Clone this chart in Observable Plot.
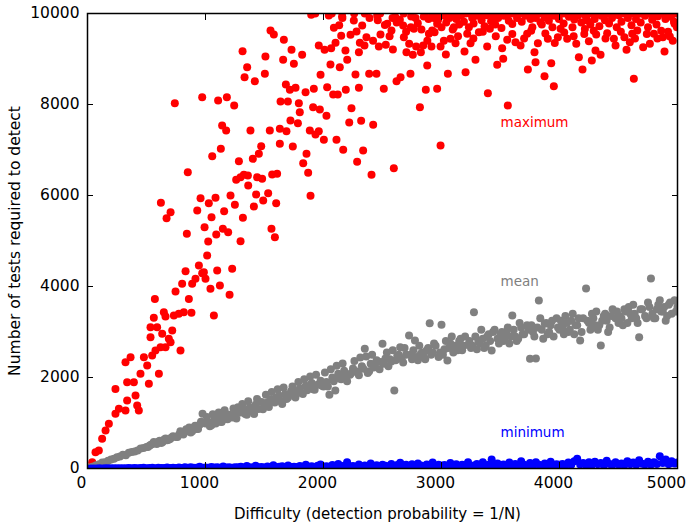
<!DOCTYPE html>
<html><head><meta charset="utf-8">
<script src="https://cdn.jsdelivr.net/npm/d3@7"></script>
<script src="https://cdn.jsdelivr.net/npm/@observablehq/plot@0.6"></script>
<style>body{margin:0;background:#fff}</style>
</head><body><div id="chart"></div>
<script>
// Difficulty grid (N) shared by the mean and minimum series
const difficulty = [
  25,50,75,100,125,150,175,200,225,250,
  275,300,325,350,375,400,425,450,475,500,
  525,550,575,600,625,650,675,700,725,750,
  775,800,825,850,875,900,925,950,975,1000,
  1025,1050,1075,1100,1125,1150,1175,1200,1225,1250,
  1275,1300,1325,1350,1375,1400,1425,1450,1475,1500,
  1525,1550,1575,1600,1625,1650,1675,1700,1725,1750,
  1775,1800,1825,1850,1875,1900,1925,1950,1975,2000,
  2025,2050,2075,2100,2125,2150,2175,2200,2225,2250,
  2275,2300,2325,2350,2375,2400,2425,2450,2475,2500,
  2525,2550,2575,2600,2625,2650,2675,2700,2725,2750,
  2775,2800,2825,2850,2875,2900,2925,2950,2975,3000,
  3025,3050,3075,3100,3125,3150,3175,3200,3225,3250,
  3275,3300,3325,3350,3375,3400,3425,3450,3475,3500,
  3525,3550,3575,3600,3625,3650,3675,3700,3725,3750,
  3775,3800,3825,3850,3875,3900,3925,3950,3975,4000,
  4025,4050,4075,4100,4125,4150,4175,4200,4225,4250,
  4275,4300,4325,4350,4375,4400,4425,4450,4475,4500,
  4525,4550,4575,4600,4625,4650,4675,4700,4725,4750,
  4775,4800,4825,4850,4875,4900,4925,4950,4975,5000
];
const meanTests = [
  25,45,70,95,130,140,170,200,215,245,
  265,300,290,345,360,375,395,440,450,470,
  500,540,560,590,560,640,620,650,710,690,
  740,770,800,850,790,900,870,960,1201,990,
  1010,950,1060,1100,1030,1150,1090,1180,1120,1210,
  1347,1230,1290,1180,1340,1300,1400,1310,1460,1390,
  1450,1520,1480,1560,1600,1420,1640,1560,1700,1630,
  1700,1760,1640,1820,1760,1880,1730,1840,1930,1800,
  1900,1620,2000,1714,2080,1960,2150,1920,2060,2200,
  2140,2050,2250,2630,2100,2300,2220,2380,2180,2740,
  2420,2250,2350,1714,2480,2667,2330,2500,2923,2400,
  2813,2380,2520,2450,2600,3194,2550,2700,2450,3158,
  2620,2373,2750,2550,2680,2800,2600,2900,2720,2650,
  3435,2620,2750,2850,2700,2950,2593,3050,2850,2950,
  2800,3000,2750,3362,2900,2850,3100,2950,3150,2410,
  3000,2418,3692,3050,3179,2950,3150,2900,3300,3050,
  3100,3350,3000,3250,2950,3150,2813,3300,3956,3200,
  3400,3150,3050,2703,3350,3250,3100,3500,3300,3200,
  3300,3500,3200,3400,3600,3300,2886,3500,3350,3650,
  4175,3300,3500,3700,3450,3250,3600,3400,3700,3550
];
// Further mean points lying between the grid points above: [difficulty, tests]
const meanExtra = [
  [512,470],[537,520],[562,580],[587,540],[612,610],[637,580],[662,660],[687,630],[712,680],
  [762,690],[787,820],[812,750],[837,860],[862,900],[887,820],[912,940],[937,870],[962,1030],
  [1012,1130],[1037,930],[1062,1190],[1087,990],[1112,1230],[1137,1020],[1162,1280],[1187,1080],[1237,1320],
  [1262,1100],[1287,1330],[1312,1420],[1337,1200],[1362,1480],[1387,1260],[1412,1200],[1437,1530],[1487,1300],
  [1512,1620],[1537,1350],[1562,1680],[1587,1450],[1612,1740],[1637,1480],[1662,1780],[1687,1530],[1737,1800],
  [1762,1560],[1787,1900],[1812,1660],[1837,1960],[1862,1720],[1887,2020],[1912,1740],[1937,2060],[1987,1820],
  [2012,2110],[2037,1800],[2062,2180],[2087,1920],[2112,2260],[2137,1980],[2162,2310],[2187,2040],[2237,2100],
  [2262,2360],[2287,2120],[2312,2440],[2337,2190],[2362,2460],[2387,2140],[2412,2500],[2437,2240],[2487,2340],
  [2512,2300],[2537,2550],[2562,2400],[2587,2600],[2612,2380],[2637,2500],[2662,2420],[2687,2650],[2737,2500],
  [2762,2600],[2787,2450],[2812,2700],[2837,2550],[2862,2400],[2887,2650],[2912,2500],[2937,2750],[2987,2550],
  [3012,2500],[3037,2800],[3062,2650],[3087,2900],[3112,2700],[3137,2600],[3162,2850],[3187,2700],[3237,2800],
  [3262,2700],[3287,2900],[3312,2800],[3337,3050],[3362,2650],[3387,2900],[3412,2800],[3437,3000],[3487,2750],
  [3512,3000],[3537,2850],[3562,3100],[3587,2900],[3612,3050],[3637,2800],[3662,3200],[3687,2950],[3737,3050],
  [3762,3150],[3787,2900],[3812,3100],[3837,3300],[3862,2850],[3887,3200],[3912,3000],[3937,3250],[3987,3100],
  [4012,3250],[4037,2950],[4062,3200],[4087,3050],[4112,3400],[4137,3150],[4162,3300],[4187,3000],[4237,3250],
  [4262,3050],[4287,3300],[4312,3450],[4337,3150],[4362,3250],[4387,3400],[4412,3000],[4437,3350],[4487,3450],
  [4512,3350],[4537,3150],[4562,3450],[4587,3550],[4612,3300],[4637,3400],[4662,3200],[4687,3500],[4737,3300],
  [4762,3550],[4787,3400],[4812,3300],[4837,3600],[4862,3450],[4887,3550],[4912,3350],[4937,3650],[4987,3450]
];
const minTests = [
  1,1,2,3,2,4,3,5,4,6,
  5,8,4,10,6,12,7,9,15,8,
  10,14,6,18,12,9,22,11,16,13,
  20,12,25,15,30,18,14,40,16,22,
  18,35,20,26,15,45,22,30,19,28,
  25,40,20,55,30,24,60,28,35,22,
  45,30,70,25,38,50,28,65,32,40,
  35,55,30,80,40,48,30,62,90,38,
  50,40,75,35,100,45,60,140,42,55,
  38,90,50,65,45,110,40,70,55,85,
  60,45,100,50,75,125,48,80,55,95,
  40,110,65,50,90,58,130,45,80,60,
  75,50,120,60,95,45,85,70,140,55,
  65,100,50,140,70,85,200,60,110,75,
  90,55,130,70,100,60,160,80,50,120,
  70,140,85,60,110,75,150,65,95,80,
  100,70,130,85,160,213,90,120,75,140,
  80,150,95,120,70,170,100,85,140,90,
  110,75,160,95,130,80,180,105,90,150,
  85,140,100,270,120,200,95,160,110,130
];
// Maximum series: [difficulty, tests] pairs (capped at 10000)
const maxPoints = [
  [40,139],[68,359],[96,395],[124,652],[153,835],[181,981],[237,1201],[266,1311],[237,1750],[322,1274],
  [336,1494],[407,1604],[421,1384],[435,1274],[336,1897],[393,1897],[449,2080],[506,2263],[520,1860],[605,2080],
  [322,2337],[365,2446],[478,2446],[548,2483],[576,2593],[619,2666],[661,2666],[704,2776],[788,2593],[534,2886],
  [534,3106],[590,3106],[633,2959],[689,2849],[718,3032],[562,3311],[647,3435],[661,3340],[732,3362],[774,3399],
  [816,3435],[881,3421],[1071,3362],[571,3728],[746,3890],[802,4058],[859,3728],[887,4058],[915,4168],[831,4337],
  [944,4461],[986,4315],[1000,4168],[1042,3948],[1099,4351],[1122,4021],[1204,3816],[1226,4388],[972,4293],[1014,4681],
  [1023,4989],[842,5157],[992,5304],[1091,5142],[1147,5267],[1192,5194],[1297,4996],[1051,5523],[1158,5655],[930,5670],
  [1028,5831],[1085,5948],[958,5941],[1212,5999],[1249,5794],[1317,5509],[622,5838],[704,5633],[670,5501],[850,6512],
  [1283,6754],[1260,6344],[1297,6402],[1057,6864],[1130,7025],[1141,7538],[1175,7428],[740,8029],[972,8161],[1107,8087],
  [1181,8161],[1243,7978],
  [1314,9172],[1353,8821],[1331,8601],[1381,7429],[1401,6806],[1362,6220],[1429,6022],[1410,5758],[1489,5890],[1531,6051],
  [1559,5267],[1588,5084],[1599,5832],[1438,6403],[1480,6366],[1565,6462],[1607,6476],[1359,6440],[1325,6454],[1545,7429],
  [1630,7465],[1686,7414],[1630,7136],[1740,7077],[1720,7649],[1783,7590],[1884,7429],[1960,7414],[2003,7223],[1932,7341],
  [2110,7223],[2167,7004],[2285,6740],[2336,6989],[2407,6454],[2596,6601],[2421,7553],[2319,7641],[2218,7604],[2237,7919],
  [2025,7751],[1969,7890],[1912,7941],[1799,7832],[1636,8066],[1698,8066],[1791,8029],[1828,6711],[1856,6916],[1870,6498],
  [1890,5993],[1681,8440],[1715,8323],[1763,8366],[1848,8271],[1918,8344],[1975,8652],[2031,8381],[2082,8220],[2121,8220],
  [2189,8323],[2300,8366],[2387,8674],[2449,8674],[2511,8344],[2619,8513],[2653,8601],[2737,8674],[2867,8323],[2963,8344],
  [2817,7941],[2992,7099],[2879,8857],[2059,8879],[2138,8821],[2201,8982],[2186,9187],[2271,8659],[1749,8894],[1819,9092],
  [1658,8982],[1729,9202],[1508,9055],[1418,8513],[1503,8674],[1664,9421],[1551,9626],[1579,9539],[1960,9297],[2009,9202],
  [2065,9238],[2102,9355],[2150,9509],[2088,9685],[2133,9744],[1896,9971],[2045,9956],[2158,9942],[2229,9531],[2280,9604],
  [2328,9736],[2257,9846],[2308,9355],[2364,9480],[2347,9297],[2469,9275],[2483,9539],[2528,9311],[2588,9209],[2540,9773],
  [2576,9626],[2455,9956],[2610,9919],[2647,9861],[2675,9736],[2681,9480],[2703,9150],[2757,9092],[2726,9333],[2785,9275],
  [2845,9297],[2825,9150],[2743,9934],[2799,9788],[2766,9663],[2850,9934],[2893,9553],[2921,9626],[2963,9773],[2915,9275],
  [2992,9275],[1452,6916],[1472,7084],
  [3054,8674],[3204,8711],[3393,8249],[3562,7978],[3732,8769],[3873,8623],[3952,8403],[3797,8930],[3930,8908],[4195,8769],
  [4274,8967],[4630,8564],[4164,9040],[4305,9187],[4348,9092],[4568,9202],[4709,9260],[4766,9333],[4890,9165],[4876,9480],
  [4935,9495],[4975,9773],[3037,9099],[3195,9165],[3288,8982],[3523,9004],[3472,8872],[3387,9275],[3514,9238],[3788,9150],
  [3817,9348],[3901,9443],[3986,9480],[4065,9443],[4142,9333],[4249,9392],[4311,9539],[4404,9568],[4461,9443],[4475,9297],
  [4596,9370],[4616,9553],[4800,9553],[2941,9590],[3105,9700],[3076,9443],[3119,9348],[3218,9553],[3246,9348],[3317,9590],
  [3410,9663],[3438,9919],[3557,9421],[3627,9370],[3670,9297],[3726,9553],[3839,9810],[4009,9663],[4235,9846],[4659,9626],
  [3020,9400],[3140,9500],[3270,9450],[3350,9600],[3460,9500],[3600,9550],[3700,9450],[3760,9620],[3880,9560],[3960,9350],
  [4040,9580],[4120,9500],[4210,9550],[4290,9620],[4390,9450],[4520,9600],[4550,9480],[4640,9450],[4740,9550],[4830,9450],
  [4920,9600],[4960,9400],[2300,9150],[2420,9400],[2560,9500],[2700,9600],[2880,9400],
  [1930,10000],[2070,10000],[2160,9900],[2260,10000],[2350,10000],[2390,9900],[2460,9850],[2480,10000],[2520,9750],[2585,9900],
  [2620,9800],[2680,10000],[2740,9700],[2780,9900],[2830,9650],[2860,10000],[2890,9880],
  [2920,10000],[2935,9900],[2950,10000],[2970,9850],[2985,10000],[3000,9700],[3012,10000],[3025,9950],[3040,9800],[3055,10000],
  [3068,9900],[3080,10000],[3095,9650],[3110,10000],[3125,9880],[3138,10000],[3150,9760],[3165,9950],[3178,10000],[3190,9820],
  [3205,10000],[3232,9700],[3245,10000],[3260,9900],[3272,9780],[3285,10000],[3300,9950],[3325,10000],[3340,9850],[3352,10000],
  [3365,9720],[3378,9960],[3392,10000],[3420,9830],[3432,10000],[3455,9760],[3468,10000],[3480,9900],[3495,10000],[3508,9680],
  [3530,9950],[3545,10000],[3570,9840],[3585,10000],[3600,9770],[3612,10000],[3640,9900],[3655,10000],[3680,9820],[3695,10000],
  [3710,9950],[3742,10000],[3755,9880],[3770,9700],[3782,10000],[3800,9900],[3825,10000],[3850,9760],[3862,10000],[3875,9920],
  [3888,10000],[3910,9840],[3922,10000],[3940,9700],[3955,9950],[3968,10000],[3995,9880],[4020,10000],[4035,9780],[4048,10000],
  [4080,9930],[4095,10000],[4110,9700],[4125,9870],[4138,10000],[4155,9950],[4172,10000],[4185,9800],[4200,10000],[4215,9660],
  [4225,9920],[4250,10000],[4262,9760],[4285,10000],[4298,9880],[4325,10000],[4338,9720],[4355,9950],[4370,10000],[4385,9850],
  [4398,10000],[4420,9780],[4432,10000],[4445,9900],[4470,10000],[4485,9700],[4500,9960],[4512,10000],[4525,9820],[4540,10000],
  [4580,9900],[4598,10000],[4610,9740],[4635,10000],[4648,9880],[4675,10000],[4688,9800],[4700,10000],[4725,9950],[4738,10000],
  [4750,9700],[4775,10000],[4785,9860],[4810,10000],[4822,9760],[4835,9940],[4850,10000],[4862,9620],[4885,10000],[4898,9880],
  [4910,10000],[4945,9930],[4958,10000],[4970,9820],[4985,10000],[4995,9700]
];
const xTicks = [0,1000,2000,3000,4000,5000];
const xTickLabelsLeft = [0,1000,2000,3000,4000];
const xTickLabelsRight = [5000];
const yTicks = [0,2000,4000,6000,8000,10000];
const seriesLabels = ["maximum","mean","minimum"];
const labelX = [3500,3500,3500];
const labelY = [7600,4100,780];
const seriesColors = ["#ff0000","#808080","#0000ff"];
const xTitle = "Difficulty (detection probability = 1/N)";
const yTitle = "Number of tests required to detect";

const maxData = maxPoints.map(([d, v]) => ({d, v}));
const meanData = difficulty.map((d, i) => ({d, v: meanTests[i]}))
  .concat(meanExtra.map(([d, v]) => ({d, v})));
const minData = difficulty.map((d, i) => ({d, v: minTests[i]}));
const labels = seriesLabels.map((t, i) => ({t, x: labelX[i], y: labelY[i], c: seriesColors[i]}));

const chart = Plot.plot({
  width: 686, height: 523,
  marginLeft: 87, marginRight: 9, marginTop: 13, marginBottom: 55,
  style: {fontFamily: "DejaVu Sans", fontSize: "15.5px", background: "white", color: "black"},
  x: {domain: [0, 5000]},
  y: {domain: [0, 10000]},
  marks: [
    Plot.dot(maxData, {x: "d", y: "v", r: 4, fill: seriesColors[0], stroke: "none", clip: true}),
    Plot.dot(meanData, {x: "d", y: "v", r: 4, fill: seriesColors[1], stroke: "none", clip: true}),
    Plot.dot(minData, {x: "d", y: "v", r: 4, fill: seriesColors[2], stroke: "none", clip: true}),
    Plot.text(labels, {x: "x", y: "y", text: "t", fill: "c", textAnchor: "start", fontSize: 13.5}),
    Plot.frame({stroke: "black", strokeWidth: 1.5}),
    Plot.axisX({ticks: xTicks, anchor: "bottom", tickSize: -6, tickFormat: () => "", label: null}),
    Plot.axisX({ticks: xTicks, anchor: "top", tickSize: -6, tickFormat: () => "", label: null}),
    Plot.axisY({ticks: yTicks, anchor: "left", tickSize: -6, tickFormat: () => "", label: null}),
    Plot.axisY({ticks: yTicks, anchor: "right", tickSize: -6, tickFormat: () => "", label: null}),
    Plot.axisX({ticks: xTickLabelsLeft, anchor: "bottom", tickSize: 0, tickPadding: 8, dx: -6, tickFormat: "d", label: null}),
    Plot.axisX({ticks: xTickLabelsRight, anchor: "bottom", tickSize: 0, tickPadding: 8, dx: -11, tickFormat: "d", label: null}),
    Plot.axisY({ticks: yTicks, anchor: "left", tickSize: 0, tickPadding: 8, tickFormat: "d", label: null}),
    Plot.text([xTitle], {frameAnchor: "bottom", dy: 50, dx: -5, fontSize: 15}),
    Plot.text([yTitle], {frameAnchor: "left", textAnchor: "middle", rotate: -90, dx: -72, fontSize: 15.5})
  ]
});
document.getElementById("chart").appendChild(chart);
</script>
</body></html>
